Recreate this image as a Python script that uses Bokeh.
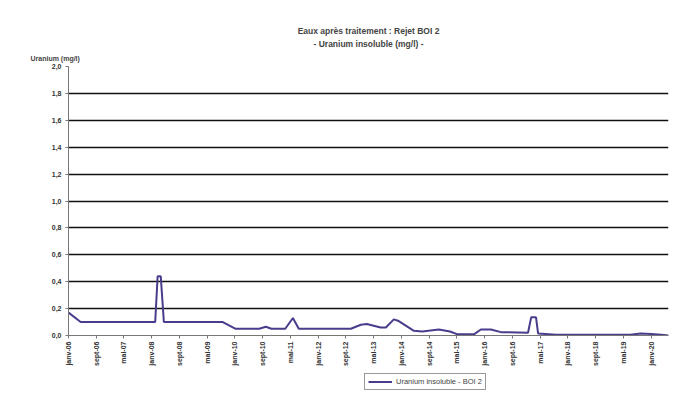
from bokeh.plotting import figure
from bokeh.layouts import column
from bokeh.models import FixedTicker, Legend, LegendItem, Range1d, Title
from bokeh.embed import file_html
from bokeh.resources import INLINE

# month index 0 = janv-06
months = [0, 3.5, 25, 25.7, 26.6, 27.5, 44.5, 48.2, 55, 56.9, 58.5, 62.5, 64.7, 66.4,
          81.4, 84.3, 86, 90, 91.5, 93.8, 95, 99.6, 102, 106.8, 110, 112, 117, 118.9,
          121.8, 124.7, 132.5, 133.4, 134.8, 135.4, 140.6, 162, 165, 168, 170.9, 173]
values = [0.17, 0.10, 0.10, 0.44, 0.44, 0.10, 0.10, 0.05, 0.05, 0.065, 0.05, 0.05, 0.13, 0.05,
          0.05, 0.08, 0.085, 0.06, 0.06, 0.12, 0.11, 0.035, 0.03, 0.045, 0.03, 0.01, 0.01, 0.045,
          0.045, 0.025, 0.02, 0.135, 0.135, 0.015, 0.005, 0.005, 0.015, 0.012, 0.005, 0.0]

x_tick_months = list(range(0, 169, 8))
x_tick_labels = ["janv-06", "sept-06", "mai-07", "janv-08", "sept-08", "mai-09", "janv-10",
                 "sept-10", "mai-11", "janv-12", "sept-12", "mai-13", "janv-14", "sept-14",
                 "mai-15", "janv-16", "sept-16", "mai-17", "janv-18", "sept-18", "mai-19",
                 "janv-20"]
y_ticks = [0.0, 0.2, 0.4, 0.6, 0.8, 1.0, 1.2, 1.4, 1.6, 1.8, 2.0]
y_tick_labels = ["0,0", "0,2", "0,4", "0,6", "0,8", "1,0", "1,2", "1,4", "1,6", "1,8", "2,0"]

title_1 = "Eaux après traitement : Rejet BOI 2"
title_2 = "- Uranium insoluble (mg/l) -"
y_label = "Uranium (mg/l)"
series_name = "Uranium insoluble - BOI 2"

FONT = "Liberation Sans"
LINE_COLOR = "#4a3c8c"

p = figure(frame_width=600, frame_height=269,
           x_range=Range1d(0, 173), y_range=Range1d(0, 2.0),
           output_backend="svg", toolbar_location=None,
           min_border_left=68, min_border_right=12, min_border_top=66, min_border_bottom=0)
p.outline_line_color = None
p.background_fill_color = "white"
p.border_fill_color = "white"

p.xgrid.visible = False
p.ygrid.ticker = FixedTicker(ticks=y_ticks)
p.ygrid.grid_line_color = "#111111"
p.ygrid.grid_line_width = 1.3

p.xaxis.ticker = FixedTicker(ticks=x_tick_months)
p.xaxis.major_label_overrides = {m: l for m, l in zip(x_tick_months, x_tick_labels)}
p.xaxis.major_label_orientation = 1.5708
p.xaxis.major_label_text_font = FONT
p.xaxis.major_label_text_font_size = "7px"
p.xaxis.major_label_text_font_style = "bold"
p.xaxis.major_label_text_color = "#333333"
p.xaxis.major_label_standoff = 3
p.xaxis.major_tick_out = 3
p.xaxis.major_tick_in = 0
p.xaxis.minor_tick_line_color = None
p.xaxis.axis_line_color = "#777777"
p.xaxis.major_tick_line_color = "#777777"

p.yaxis.ticker = FixedTicker(ticks=y_ticks)
p.yaxis.major_label_overrides = {t: l for t, l in zip(y_ticks, y_tick_labels)}
p.yaxis.major_label_text_font = FONT
p.yaxis.major_label_text_font_size = "7px"
p.yaxis.major_label_text_font_style = "bold"
p.yaxis.major_label_text_color = "#333333"
p.yaxis.major_label_standoff = 4
p.yaxis.major_tick_out = 3
p.yaxis.major_tick_in = 0
p.yaxis.minor_tick_line_color = None
p.yaxis.axis_line_color = "#777777"
p.yaxis.major_tick_line_color = "#777777"

p.line(months, values, line_color=LINE_COLOR, line_width=2)

p.add_layout(Title(text=y_label, align="left", text_font=FONT, text_font_size="7px",
                   text_font_style="bold", standoff=9, offset=-38), "above")
p.add_layout(Title(text=title_2, align="center", text_font=FONT, text_font_size="8.5px",
                   text_font_style="bold", standoff=0, offset=-13), "above")
p.add_layout(Title(text=title_1, align="center", text_font=FONT, text_font_size="8.5px",
                   text_font_style="bold", standoff=2, offset=-13), "above")

# legend strip below the chart (same series, its own small canvas)
leg = figure(width=680, height=24, x_range=Range1d(1000, 1001), y_range=Range1d(0, 1),
             output_backend="svg", toolbar_location=None,
             x_axis_location=None, y_axis_location=None,
             min_border_left=0, min_border_right=0, min_border_top=0, min_border_bottom=0)
leg.outline_line_color = None
leg.xgrid.visible = False
leg.ygrid.visible = False
r_leg = leg.line(months, values, line_color=LINE_COLOR, line_width=2)
legend = Legend(items=[LegendItem(label=series_name, renderers=[r_leg])],
                orientation="horizontal", location=(296, 3),
                label_text_font=FONT, label_text_font_size="7.5px",
                label_height=9, glyph_height=9, glyph_width=24,
                padding=3, margin=0, spacing=0, label_standoff=4,
                border_line_color="#333333", border_line_width=1)
leg.add_layout(legend)

layout = column(p, leg, spacing=0)
open("out.html", "w").write(file_html(layout, INLINE))
